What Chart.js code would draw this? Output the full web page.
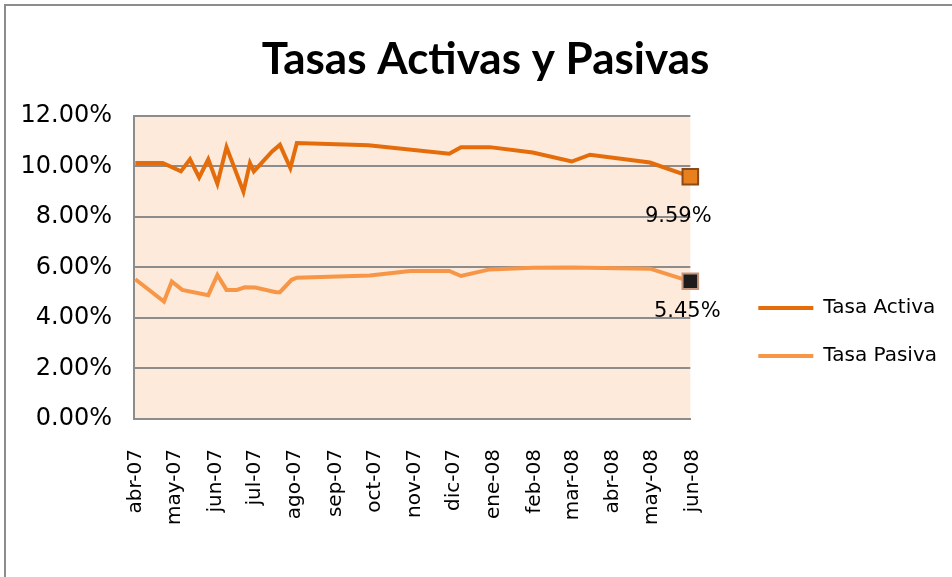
<!DOCTYPE html>
<html lang="es">

<head>
    <meta charset="UTF-8">
    <title>Tasas Activas y Pasivas</title>
    <script src="https://cdn.jsdelivr.net/npm/chart.js"></script>
    <style>
        body {
            margin: 0;
            background: #ffffff;
        }
    </style>
</head>

<body>
    <canvas id="tasasChart" width="952" height="577"></canvas>

    <script>
        // Fechas de observación y tasas (%)
        const activaFechas = ['2007-04-02', '2007-04-23', '2007-05-07', '2007-05-14', '2007-05-21', '2007-05-28',
            '2007-06-04', '2007-06-11', '2007-06-24', '2007-06-29', '2007-07-02', '2007-07-16', '2007-07-22',
            '2007-07-30', '2007-08-04', '2007-09-28', '2007-11-29', '2007-12-08', '2007-12-30', '2008-02-01',
            '2008-03-02', '2008-03-16', '2008-05-01', '2008-06-01'];
        const activaValores = [10.13, 10.13, 9.80, 10.28, 9.56, 10.28, 9.31, 10.76, 9.00, 10.13, 9.80, 10.59, 10.85,
            9.93, 10.92, 10.83, 10.50, 10.76, 10.76, 10.55, 10.19, 10.46, 10.15, 9.59];

        const pasivaFechas = ['2007-04-02', '2007-04-24', '2007-04-30', '2007-05-08', '2007-05-28', '2007-06-04',
            '2007-06-11', '2007-06-19', '2007-06-25', '2007-07-03', '2007-07-19', '2007-07-22', '2007-07-31',
            '2007-08-04', '2007-09-29', '2007-10-30', '2007-11-29', '2007-12-08', '2007-12-30', '2008-02-01',
            '2008-03-02', '2008-05-01', '2008-06-01'];
        const pasivaValores = [5.53, 4.65, 5.44, 5.11, 4.90, 5.70, 5.11, 5.11, 5.21, 5.20, 5.02, 5.02, 5.51,
            5.59, 5.68, 5.86, 5.86, 5.66, 5.92, 5.99, 6.00, 5.95, 5.45];

        // Marcas del eje de fechas (inicio de cada mes)
        const mesesInicio = ['2007-04-01', '2007-05-01', '2007-06-01', '2007-07-01', '2007-08-01', '2007-09-01',
            '2007-10-01', '2007-11-01', '2007-12-01', '2008-01-01', '2008-02-01', '2008-03-01', '2008-04-01',
            '2008-05-01', '2008-06-01'];
        const mesesEtiquetas = ['abr-07', 'may-07', 'jun-07', 'jul-07', 'ago-07', 'sep-07', 'oct-07', 'nov-07',
            'dic-07', 'ene-08', 'feb-08', 'mar-08', 'abr-08', 'may-08', 'jun-08'];

        // días desde el 1 de abril de 2007
        const toDay = s => (Date.parse(s) - Date.parse(mesesInicio[0])) / 864e5;
        const toPoints = (fechas, valores) => fechas.map((f, i) => ({ x: toDay(f), y: valores[i] }));

        const gridColor = '#8c8c8c';
        const isLast = ctx => ctx.dataIndex === ctx.dataset.data.length - 1;

        // fondo blanco, borde del gráfico y fondo del área de trazado
        const fondo = {
            id: 'fondo',
            afterLayout(chart) {
                // separa la leyenda del área de trazado y centra el título como en el original
                chart.legend.left += 40;
                chart.legend.right += 40;
                chart.titleBlock.left += 22;
                chart.titleBlock.right += 22;
            },
            beforeDraw(chart) {
                const { ctx, chartArea } = chart;
                ctx.save();
                ctx.fillStyle = '#ffffff';
                ctx.fillRect(0, 0, chart.width, chart.height);
                ctx.fillStyle = '#fdeada';
                ctx.fillRect(chartArea.left, chartArea.top, chartArea.width, chartArea.height);
                ctx.strokeStyle = '#8c8c8c';
                ctx.lineWidth = 2;
                ctx.beginPath();
                ctx.moveTo(5, chart.height);
                ctx.lineTo(5, 5);
                ctx.lineTo(chart.width, 5);
                ctx.stroke();
                ctx.restore();
            }
        };

        // etiqueta de valor en el último punto de cada serie
        const etiquetasFinales = {
            id: 'etiquetasFinales',
            afterDatasetsDraw(chart) {
                const ctx = chart.ctx;
                const desplaz = [[-12, 40], [-3, 30]];
                chart.data.datasets.forEach((ds, i) => {
                    const meta = chart.getDatasetMeta(i);
                    const pt = meta.data[meta.data.length - 1];
                    const valor = ds.data[ds.data.length - 1].y;
                    ctx.save();
                    ctx.font = '21px "DejaVu Sans"';
                    ctx.fillStyle = '#000000';
                    ctx.textAlign = 'center';
                    ctx.textBaseline = 'middle';
                    ctx.fillText(valor.toFixed(2) + '%', pt.x + desplaz[i][0], pt.y + desplaz[i][1]);
                    ctx.restore();
                });
            }
        };

        const ctx = document.getElementById('tasasChart').getContext('2d');
        new Chart(ctx, {
            type: 'line',
            data: {
                datasets: [{
                    label: 'Tasa Activa',
                    data: toPoints(activaFechas, activaValores),
                    borderColor: '#e46c0a',
                    backgroundColor: '#e46c0a',
                    borderWidth: 4,
                    tension: 0,
                    clip: false,
                    pointStyle: 'rect',
                    pointRadius: c => isLast(c) ? 11 : 0,
                    pointHoverRadius: c => isLast(c) ? 11 : 0,
                    pointBackgroundColor: '#e8801e',
                    pointBorderColor: c => isLast(c) ? '#8b4a1c' : '#e46c0a',
                    pointBorderWidth: c => isLast(c) ? 2 : 4
                }, {
                    label: 'Tasa Pasiva',
                    data: toPoints(pasivaFechas, pasivaValores),
                    borderColor: '#f79646',
                    backgroundColor: '#f79646',
                    borderWidth: 4,
                    tension: 0,
                    clip: false,
                    pointStyle: 'rect',
                    pointRadius: c => isLast(c) ? 11 : 0,
                    pointHoverRadius: c => isLast(c) ? 11 : 0,
                    pointBackgroundColor: '#1c1c1c',
                    pointBorderColor: c => isLast(c) ? '#c8957a' : '#f79646',
                    pointBorderWidth: c => isLast(c) ? 2 : 4
                }]
            },
            options: {
                responsive: false,
                animation: false,
                layout: { padding: { left: 20, right: 45, top: 0, bottom: 0 } },
                plugins: {
                    title: {
                        display: true,
                        text: 'Tasas Activas y Pasivas',
                        color: '#000000',
                        font: { family: 'Lato', size: 44, weight: 'bold' },
                        padding: { top: 33, bottom: 30 }
                    },
                    legend: {
                        position: 'right',
                        title: {
                            display: true,
                            text: ' ',
                            font: { size: 20 },
                            padding: 31.5
                        },
                        labels: {
                            color: '#000000',
                            font: { family: 'DejaVu Sans', size: 20 },
                            usePointStyle: true,
                            pointStyle: 'line',
                            pointStyleWidth: 55,
                            padding: 28
                        }
                    },
                    tooltip: { enabled: false }
                },
                scales: {
                    x: {
                        type: 'linear',
                        min: 0,
                        max: toDay(mesesInicio[mesesInicio.length - 1]),
                        afterBuildTicks: s => { s.ticks = mesesInicio.map(d => ({ value: toDay(d) })); },
                        afterFit: s => { s.height = 158; },
                        grid: { display: false },
                        border: { display: true, color: gridColor, width: 2 },
                        ticks: {
                            autoSkip: false,
                            minRotation: 90,
                            maxRotation: 90,
                            padding: 22,
                            labelOffset: 2,
                            color: '#000000',
                            font: { family: 'DejaVu Sans', size: 20 },
                            callback: (v, i) => mesesEtiquetas[i]
                        }
                    },
                    y: {
                        min: 0,
                        max: 12,
                        afterFit: s => { s.width = 114; },
                        grid: { color: gridColor, lineWidth: 2, drawTicks: false },
                        border: { display: true, color: gridColor, width: 2 },
                        ticks: {
                            stepSize: 2,
                            padding: 22,
                            color: '#000000',
                            font: { family: 'DejaVu Sans', size: 24 },
                            callback: v => v.toFixed(2) + '%'
                        }
                    }
                }
            },
            plugins: [fondo, etiquetasFinales]
        });
    </script>
</body>

</html>
